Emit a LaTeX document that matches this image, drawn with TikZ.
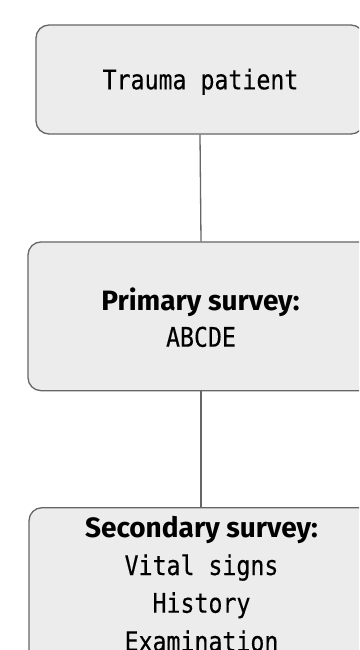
\documentclass[tikz,border=0pt]{standalone}
\usepackage{fontspec}
\newfontfamily\regfont[FakeStretch=0.86,FakeBold=0.3]{DejaVu Sans Mono}
\newfontfamily\headfont[BoldFont={Fira Sans Bold}]{Fira Sans}
\definecolor{boxfill}{HTML}{ECECEC}
\definecolor{boxline}{HTML}{666666}
\tikzset{
  stepbox/.style={draw=boxline, fill=boxfill, line width=1.3pt, rounded corners=13pt, inner sep=0pt},
  link/.style={draw=boxline, line width=1.3pt},
  plain/.style={anchor=base, inner sep=0pt, font=\fontsize{27}{32}\regfont, text=black},
  head/.style={anchor=base, inner sep=0pt, font=\fontsize{28}{33}\headfont\bfseries, text=black}
}
\begin{document}
\begin{tikzpicture}[x=1pt, y={(0pt,-1pt)}]
\useasboundingbox (0,0) rectangle (359,650);
\clip (0,0) rectangle (359,650);
\fill[white] (0,0) rectangle (359,650);
\node[stepbox, minimum width=328pt, minimum height=109pt] (b1) at (200,79.5) {};
\node[stepbox, minimum width=346pt, minimum height=148.7pt] (b2) at (201,316.3) {};
\node[stepbox, minimum width=344pt, minimum height=180pt] (b3) at (201,597.7) {};
\draw[link] (b1.south) -- (b2.north);
\draw[link] (b2.south) -- (b3.north);
\node[plain] (t1) at (200.5,89.3) {Trauma patient};
\node[head] (t2) at (200.5,310) {Primary survey:};
\node[plain] (t3) at (201,346.7) {ABCDE};
\node[head] (t4) at (201.5,537) {Secondary survey:};
\node[plain] (t5) at (201.5,575) {Vital signs};
\node[plain] (t6) at (201.5,612.7) {History};
\node[plain] (t7) at (201.5,651) {Examination};
\end{tikzpicture}
\end{document}
